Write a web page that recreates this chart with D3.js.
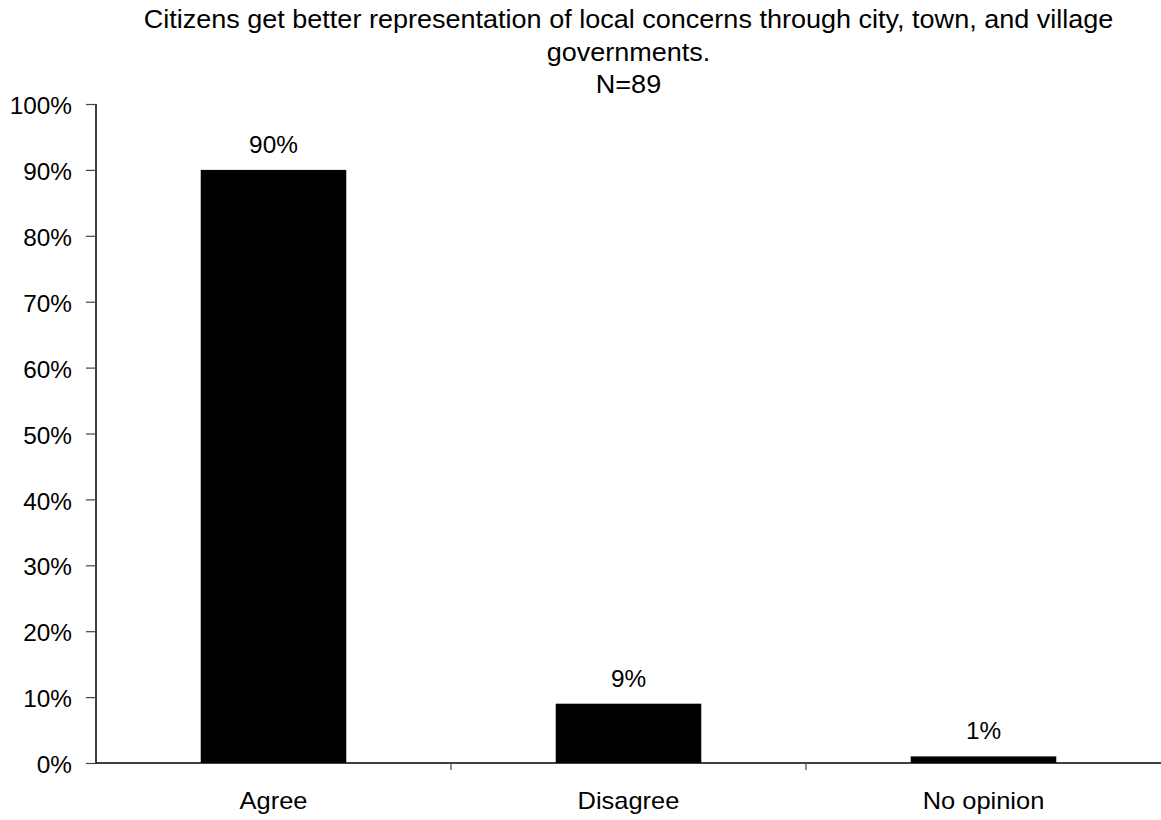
<!DOCTYPE html>
<html><head><meta charset="utf-8">
<script src="https://cdn.jsdelivr.net/npm/d3@7"></script>
<style>body{margin:0;background:#fff}svg{display:block}text{font-family:"Liberation Sans",Arial,sans-serif;fill:#000}</style>
</head><body><svg id="c" width="1161" height="820"></svg>
<script>
const categories = ["Agree", "Disagree", "No opinion"];
const values = [0.90, 0.09, 0.01];
const valueLabels = ["90%", "9%", "1%"];
const yTicks = [0, 0.1, 0.2, 0.3, 0.4, 0.5, 0.6, 0.7, 0.8, 0.9, 1.0];
const titleLines = ["Citizens get better representation of local concerns through city, town, and village", "governments.", "N=89"];

const svg = d3.select("#c");
const mLeft = 96, mRight = 1161, mTop = 104, mBottom = 763;
const x = d3.scaleBand().domain(categories).range([mLeft, mRight]).padding(0);
const y = d3.scaleLinear().domain([0, 1]).range([mBottom, mTop]);
const barW = x.bandwidth() * 0.41;
const sx = 1.06; // slight horizontal stretch of the scanned text

// title
svg.append("g").selectAll("text").data(titleLines).join("text")
  .attr("transform", (d, i) => `translate(${(mLeft + mRight) / 2},${28 + i * 32.5}) scale(${sx},1)`)
  .attr("text-anchor", "middle").style("font-size", "25.5px").text(d => d);

// y axis
const yAxis = d3.axisLeft(y).tickValues(yTicks).tickFormat(d3.format(".0%")).tickSize(10).tickPadding(14);
const gy = svg.append("g").attr("transform", `translate(${mLeft},0)`).call(yAxis);
gy.select(".domain").attr("stroke", "#000").attr("stroke-width", 1.5).attr("d", `M0,${mTop}V${mBottom}`);
gy.selectAll(".tick line").attr("stroke", "#444").attr("stroke-width", 1.2);
gy.selectAll("text").style("font-size", "23px").attr("dy", "0.42em").attr("fill", "#000")
  .attr("x", -24 / sx).attr("transform", `scale(${sx},1)`);

// bars
svg.append("g").selectAll("rect").data(values).join("rect")
  .attr("x", (d, i) => x(categories[i]) + (x.bandwidth() - barW) / 2)
  .attr("width", barW)
  .attr("y", d => y(d)).attr("height", d => y(0) - y(d))
  .attr("fill", "#000");

// x axis
const xAxis = d3.axisBottom(x).tickSize(0).tickPadding(0);
const gx = svg.append("g").attr("transform", `translate(0,${mBottom})`).call(xAxis);
gx.select(".domain").attr("stroke", "#000").attr("stroke-width", 1.5).attr("d", `M${mLeft},0H${mRight}`);
gx.selectAll("text").style("font-size", "24px").attr("fill", "#000")
  .attr("dy", null).attr("y", 46).attr("x", 0).attr("transform", `scale(${sx},1)`);
gx.append("g").selectAll("line").data(categories.slice(1)).join("line")
  .attr("x1", d => x(d)).attr("x2", d => x(d)).attr("y1", 0).attr("y2", 7)
  .attr("stroke", "#444").attr("stroke-width", 1.2);

// value labels
svg.append("g").selectAll("text").data(values).join("text")
  .attr("transform", (d, i) => `translate(${x(categories[i]) + x.bandwidth() / 2},${y(d) - 17}) scale(${sx},1)`)
  .attr("text-anchor", "middle").style("font-size", "23px")
  .text((d, i) => valueLabels[i]);
</script></body></html>
